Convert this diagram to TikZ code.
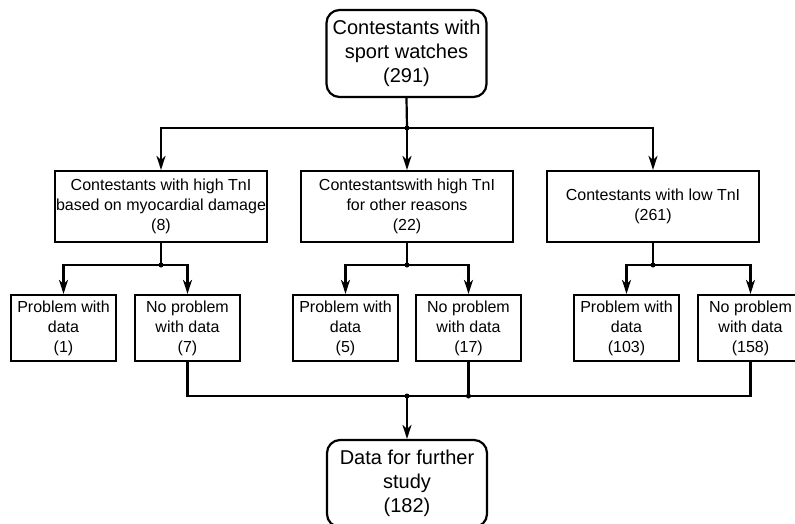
\documentclass[tikz,border=0pt]{standalone}
\usepackage{fontspec}
\setmainfont{Liberation Sans}
\usetikzlibrary{arrows.meta}
\begin{document}
\begin{tikzpicture}[x=1pt,y=-1pt,line width=2.2pt,
  bigbox/.style={draw,rounded corners=13pt,minimum width=160pt,minimum height=87pt,inner sep=0pt,align=center,font=\fontsize{20}{24}\selectfont},
  midbox/.style={draw,minimum width=212pt,minimum height=71pt,inner sep=0pt,align=center,font=\fontsize{16}{20}\selectfont},
  smallbox/.style={draw,minimum width=105pt,minimum height=66pt,inner sep=0pt,align=center,font=\fontsize{16}{20}\selectfont},
  arr/.style={-{Stealth[length=14pt,width=9pt,inset=4pt]}},
  dot/.style={circle,fill,inner sep=0pt,minimum size=5pt}]
\clip (0,0) rectangle (795,523);
\node[bigbox] (top) at (406.5,53.5) {Contestants with\\sport watches\\(291)};
\node[midbox] (m1) at (161,206.5) {Contestants with high TnI\\based on myocardial damage\\(8)};
\node[midbox] (m2) at (407,206.5) {Contestantswith high TnI\\for other reasons\\(22)};
\node[midbox] (m3) at (653,206.5) {Contestants with low TnI\\(261)};
\node[smallbox] (a) at (63.5,328) {Problem with\\data\\(1)};
\node[smallbox] (b) at (187.5,328) {No problem\\with data\\(7)};
\node[smallbox] (c) at (345.5,328) {Problem with\\data\\(5)};
\node[smallbox] (d) at (468.5,328) {No problem\\with data\\(17)};
\node[smallbox] (e) at (626.5,328) {Problem with\\data\\(103)};
\node[smallbox] (f) at (750.5,328) {No problem\\with data\\(158)};
\node[bigbox] (bot) at (407,483.5) {Data for further\\study\\(182)};
\coordinate (j0) at (407,128);
\coordinate (j1) at (161,265);
\coordinate (j2) at (407,265);
\coordinate (j3) at (653,265);
\coordinate (jb) at (407,396);
\draw (top.south) -- (j0);
\draw[arr] (j0) -| (m1.north);
\draw[arr] (j0) -| (m3.north);
\draw[arr] (j0) -- (m2.north);
\draw (m1.south) -- (j1);
\draw[arr] (j1) -| (a.north);
\draw[arr] (j1) -| (b.north);
\draw (m2.south) -- (j2);
\draw[arr] (j2) -| (c.north);
\draw[arr] (j2) -| (d.north);
\draw (m3.south) -- (j3);
\draw[arr] (j3) -| (e.north);
\draw[arr] (j3) -| (f.north);
\draw (b.south) |- (f.south |- jb) -- (f.south);
\draw (d.south) -- (d.south |- jb);
\draw[arr] (jb) -- (bot.north);
\node[dot] at (j0) {};
\node[dot] at (j1) {};
\node[dot] at (j2) {};
\node[dot] at (j3) {};
\node[dot] at (jb) {};
\node[dot] at (d.south |- jb) {};
\end{tikzpicture}
\end{document}
